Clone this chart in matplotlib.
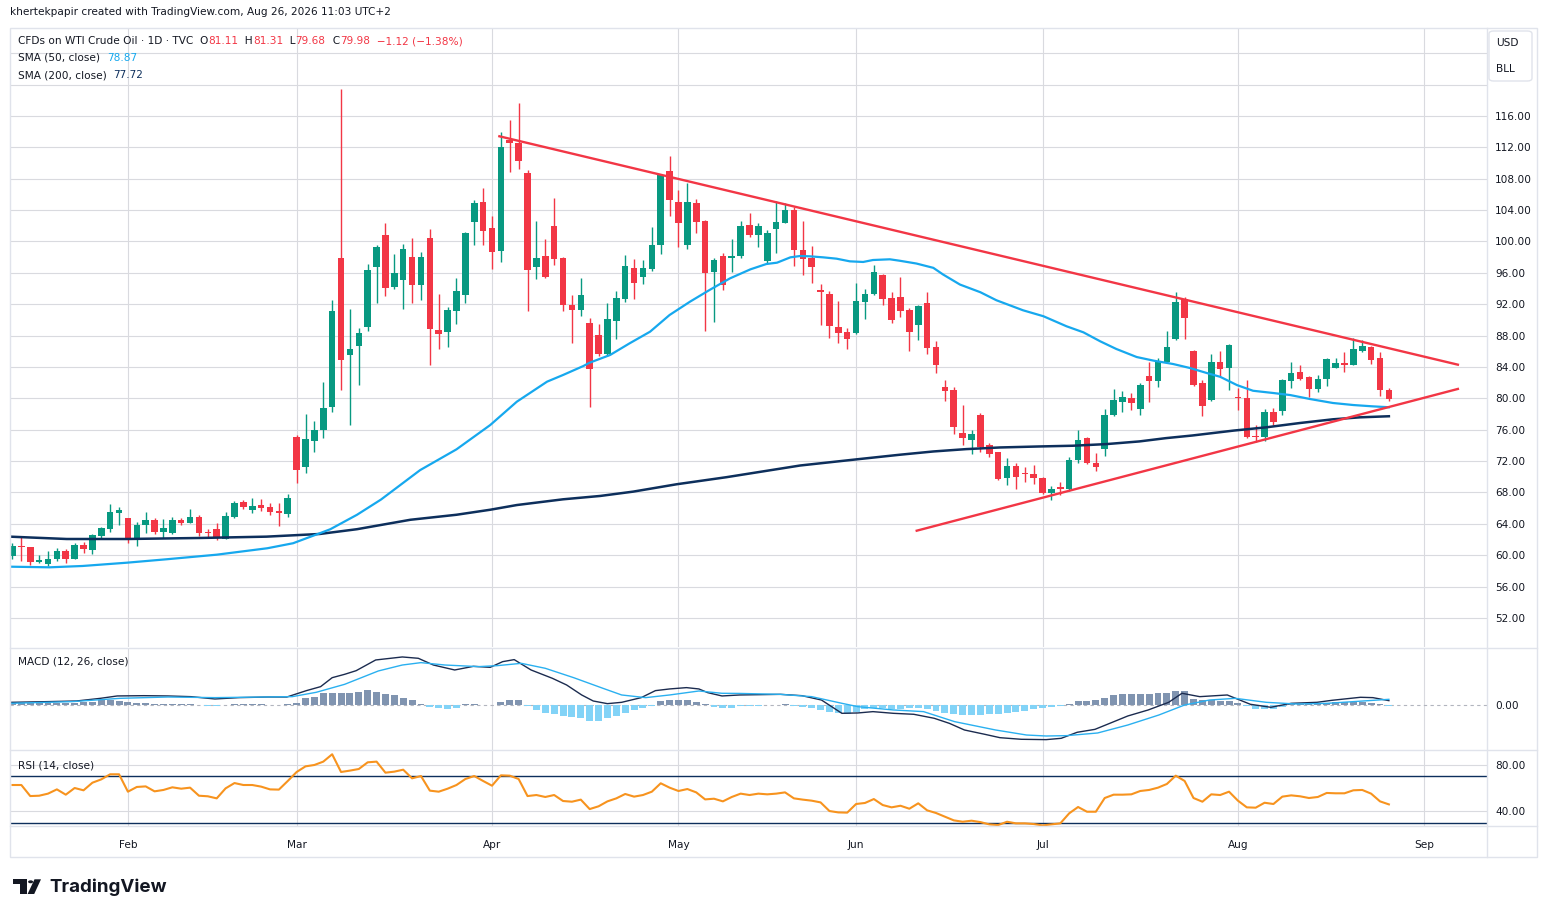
import numpy as np
import pandas as pd
import matplotlib
matplotlib.use('Agg')
import matplotlib.pyplot as plt
from matplotlib.patches import Rectangle, FancyBboxPatch, Polygon, Circle
from matplotlib.lines import Line2D

W, H = 1547, 917

# trading days (TVC daily bars, US holidays skipped)
holidays = ['2026-01-19', '2026-02-16', '2026-04-03', '2026-05-25',
            '2026-06-19', '2026-07-03']
days = pd.bdate_range('2026-01-13', '2026-09-01')
days = days[~days.isin(pd.to_datetime(holidays))]

opens = [59.94, 61.2, 61.0, 59.2, 58.9, 59.5, 60.6, 59.5, 61.3, 60.7,
         62.5, 63.4, 65.4, 64.7, 62.2, 63.8, 64.5, 63.0, 62.8, 64.5,
         64.1, 64.9, 63.0, 63.3, 62.1, 64.9, 66.8, 65.8, 66.4, 66.1,
         65.6, 65.3, 75.1, 71.2, 74.6, 76.0, 78.9, 97.9, 85.5, 86.7,
         89.1, 96.7, 100.8, 94.2, 95.1, 98.0, 94.4, 100.4, 88.7, 88.4,
         91.2, 93.2, 102.5, 105.0, 101.7, 98.8, 112.9, 112.6, 108.7, 96.7,
         98.2, 102.0, 97.9, 91.9, 91.3, 89.6, 88.1, 85.7, 89.9, 92.7,
         96.6, 95.5, 96.5, 99.5, 109.0, 105.0, 99.5, 104.9, 102.6, 96.1,
         98.1, 97.9, 98.1, 102.1, 100.8, 97.5, 101.6, 102.4, 104.0, 98.9,
         97.9, 93.8, 93.3, 89.1, 88.5, 88.3, 92.3, 93.3, 95.7, 92.8,
         92.9, 91.3, 89.3, 92.2, 86.6, 81.4, 81.1, 75.6, 74.7, 77.9,
         74.1, 73.1, 69.8, 71.4, 70.4, 70.3, 69.9, 67.9, 68.6, 68.4,
         72.2, 74.9, 71.8, 73.5, 77.9, 79.6, 80.0, 78.7, 82.9, 82.2,
         84.6, 87.6, 92.7, 86.1, 82.0, 79.8, 84.7, 83.9, 80.2, 80.1,
         75.25, 75.1, 78.2, 78.4, 82.2, 83.4, 82.7, 81.2, 82.5, 83.9,
         84.45, 84.3, 86.1, 86.5, 85.1, 81.11]
highs = [61.55, 62.3, 61.1, 60.0, 60.5, 60.9, 60.8, 61.5, 61.7, 62.7,
         63.6, 66.5, 66.1, 64.7, 64.2, 65.5, 64.7, 64.6, 64.9, 64.7,
         65.9, 65.1, 63.3, 64.1, 65.5, 66.9, 67.0, 67.3, 67.2, 66.7,
         66.7, 67.8, 75.3, 78.0, 77.1, 82.1, 92.5, 119.4, 91.4, 89.0,
         97.1, 99.6, 102.4, 98.4, 99.7, 100.4, 98.7, 101.6, 93.3, 91.6,
         95.3, 101.2, 105.3, 106.8, 103.3, 114.0, 115.5, 117.7, 109.1, 102.6,
         100.3, 105.5, 98.0, 93.2, 95.3, 90.2, 89.5, 92.2, 93.7, 98.3,
         97.8, 97.6, 101.8, 108.6, 110.9, 106.6, 107.5, 105.4, 102.7, 97.9,
         98.5, 100.3, 102.6, 103.6, 102.4, 101.5, 105.2, 104.9, 104.4, 102.6,
         99.4, 94.6, 93.7, 92.4, 89.0, 94.7, 93.9, 97.0, 95.9, 93.6,
         95.5, 91.5, 91.9, 93.6, 87.3, 82.4, 81.5, 79.2, 76.0, 78.1,
         74.3, 73.2, 72.4, 71.8, 71.2, 71.5, 70.0, 68.8, 69.3, 72.5,
         76.0, 75.1, 73.0, 78.6, 81.2, 80.9, 80.7, 81.9, 84.6, 85.1,
         88.6, 93.5, 92.9, 86.2, 82.4, 85.6, 86.0, 86.9, 81.3, 82.3,
         76.65, 78.6, 78.8, 82.5, 84.6, 84.3, 82.8, 83.0, 85.1, 85.1,
         85.9, 87.7, 87.5, 86.7, 85.9, 81.31]
lows = [59.5, 59.3, 58.8, 59.0, 58.6, 59.3, 59.0, 59.5, 60.3, 60.2,
        62.1, 62.9, 63.8, 61.5, 61.2, 62.8, 62.7, 62.2, 62.7, 63.8,
        64.1, 62.5, 62.2, 61.9, 62.1, 64.7, 65.9, 65.4, 65.6, 65.1,
        63.7, 64.9, 69.2, 70.5, 73.2, 75.0, 78.2, 81.1, 76.6, 81.7,
        88.6, 92.1, 93.0, 93.9, 91.4, 92.1, 92.5, 84.3, 86.3, 86.5,
        89.5, 92.1, 99.5, 99.6, 96.5, 97.4, 108.9, 109.2, 91.1, 95.2,
        95.4, 97.0, 91.1, 87.0, 90.5, 78.9, 85.4, 85.4, 87.6, 92.3,
        92.7, 94.6, 96.2, 98.4, 103.3, 99.3, 99.0, 101.1, 88.6, 89.7,
        93.8, 96.1, 97.9, 100.6, 99.3, 97.1, 98.5, 102.3, 96.9, 95.7,
        94.7, 89.3, 87.7, 87.0, 86.3, 88.2, 90.1, 93.2, 91.9, 89.6,
        90.4, 86.0, 87.4, 85.7, 83.2, 79.7, 75.5, 74.1, 72.9, 73.2,
        72.5, 69.6, 68.9, 68.5, 69.3, 69.1, 67.8, 67.0, 67.7, 68.2,
        71.7, 71.6, 70.8, 72.6, 77.8, 78.2, 78.5, 77.9, 79.6, 81.4,
        84.5, 87.4, 87.6, 81.6, 77.8, 79.7, 82.9, 81.1, 78.5, 75.0,
        74.5, 74.6, 76.6, 77.9, 81.3, 82.4, 80.2, 80.8, 81.6, 83.9,
        83.4, 84.2, 85.9, 84.4, 80.3, 79.68]
closes = [61.2, 61.0, 59.1, 59.3, 59.5, 60.6, 59.5, 61.3, 60.8, 62.6,
          63.5, 65.5, 65.8, 62.2, 63.9, 64.5, 63.0, 63.5, 64.5, 64.1,
          64.9, 62.8, 62.8, 62.2, 65.0, 66.7, 66.1, 66.3, 66.0, 65.5,
          65.4, 67.3, 70.9, 74.8, 76.0, 78.8, 91.1, 84.9, 86.3, 88.3,
          96.4, 99.3, 94.1, 96.0, 99.0, 94.5, 98.0, 88.8, 88.2, 91.3,
          93.7, 101.1, 104.9, 101.4, 98.7, 112.0, 112.5, 110.2, 96.4, 97.9,
          95.5, 97.8, 91.9, 91.3, 93.2, 83.8, 85.7, 90.1, 92.8, 96.9,
          94.7, 96.6, 99.5, 108.5, 105.3, 102.4, 105.0, 102.5, 96.0, 97.6,
          94.5, 98.1, 102.0, 100.8, 102.0, 101.1, 102.5, 104.0, 98.9, 97.8,
          96.7, 93.5, 89.2, 88.3, 87.6, 92.4, 93.3, 96.1, 92.7, 90.0,
          91.1, 88.5, 91.8, 86.4, 84.2, 81.0, 76.4, 74.9, 75.5, 73.8,
          72.9, 69.7, 71.4, 70.0, 70.3, 69.9, 67.9, 68.4, 68.5, 72.2,
          74.7, 71.7, 71.3, 77.9, 79.8, 80.2, 79.4, 81.7, 82.2, 84.6,
          86.5, 92.3, 90.3, 81.7, 79.0, 84.6, 83.8, 86.8, 80.0, 75.1,
          75.1, 78.2, 77.0, 82.3, 83.2, 82.5, 81.2, 82.5, 85.0, 84.5,
          84.3, 86.3, 86.65, 84.9, 81.1, 79.98]

# moving averages (bar position, value)
sma50_x = [-0.3, 4.2, 7.9, 12.9, 17.4, 23.0, 28.7, 31.6, 34.6, 35.8, 38.8,
           41.5, 45.9, 50.0, 53.8, 56.8, 60.2, 62.0, 64.3, 65.0, 67.3, 69.5,
           71.8, 74.0, 76.3, 78.5, 80.8, 83.1, 84.9, 86.1, 87.6, 88.7, 89.8,
           91.3, 92.8, 94.3, 95.8, 96.9, 98.8, 99.9, 101.8, 103.7, 104.8,
           106.7, 109.0, 110.8, 113.8, 116.1, 118.7, 120.6, 122.5, 124.3,
           126.6, 128.5, 130.7, 132.6, 134.5, 136.0, 137.9, 139.7, 142.0,
           143.9, 146.1, 148.7, 151.0, 153.2, 155.0]
sma50_y = [58.54, 58.46, 58.63, 59.05, 59.49, 60.07, 60.89, 61.53, 62.8,
           63.32, 65.16, 67.1, 70.85, 73.5, 76.6, 79.58, 82.13, 82.98, 84.13,
           84.55, 85.53, 87.02, 88.5, 90.63, 92.33, 93.82, 95.3, 96.45, 97.13,
           97.3, 97.98, 98.15, 98.11, 97.98, 97.81, 97.47, 97.39, 97.64,
           97.73, 97.55, 97.19, 96.64, 95.79, 94.51, 93.53, 92.51, 91.23,
           90.47, 89.19, 88.42, 87.27, 86.3, 85.27, 84.81, 84.38, 83.87,
           83.23, 82.75, 81.69, 80.97, 80.68, 80.42, 79.92, 79.41, 79.15,
           78.98, 78.87]
sma200_x = [-0.3, 6.1, 12.9, 21.1, 28.6, 34.6, 38.8, 44.8, 50.0, 53.8, 56.8,
            62.0, 66.2, 69.9, 74.8, 80.4, 88.7, 95.1, 99.9, 103.7, 107.4,
            111.2, 115.7, 119.4, 123.2, 126.9, 129.9, 132.9, 137.5, 141.2,
            145.0, 148.7, 151.7, 155.0]
sma200_y = [62.37, 62.07, 62.07, 62.2, 62.37, 62.71, 63.32, 64.52, 65.16,
            65.8, 66.4, 67.13, 67.56, 68.11, 69.05, 69.95, 71.44, 72.23,
            72.81, 73.23, 73.53, 73.74, 73.87, 73.96, 74.17, 74.51, 74.93,
            75.27, 75.89, 76.31, 76.86, 77.33, 77.58, 77.72]

# drawn trendlines (bar position, price)
upper_x = [54.7, 162.9]
upper_y = [113.45, 84.26]
lower_x = [101.7, 162.9]
lower_y = [63.09, 81.24]

# MACD (12, 26)
macd_x = [-0.2, 4.0, 7.2, 9.9, 11.8, 14.8, 17.5, 20.1, 22.8, 25.5, 28.8,
          30.9, 33.1, 34.7, 36.0, 37.4, 38.7, 40.9, 43.9, 45.7, 47.4, 49.8,
          51.9, 53.8, 55.2, 56.5, 58.4, 60.8, 62.4, 64.1, 65.4, 67.0, 68.6,
          70.8, 72.4, 74.0, 75.9, 77.3, 78.3, 79.9, 81.9, 86.5, 88.9, 91.1,
          93.4, 95.2, 96.9, 99.2, 101.5, 103.8, 105.5, 107.2, 109.5, 111.2,
          113.6, 116.4, 118.1, 119.9, 121.9, 123.3, 125.6, 127.9, 130.2,
          131.7, 133.7, 136.8, 139.4, 141.7, 144.0, 146.9, 148.6, 151.8,
          153.2, 155.0]
macd_y = [0.38, 0.48, 0.57, 0.95, 1.29, 1.33, 1.29, 1.19, 0.86, 1.05, 1.14,
          1.14, 2.05, 2.62, 3.9, 4.38, 4.9, 6.43, 6.86, 6.67, 5.71, 5.0,
          5.52, 5.38, 6.19, 6.48, 5.0, 3.81, 2.86, 1.43, 0.57, 0.19, 0.38,
          1.05, 2.05, 2.29, 2.48, 2.29, 1.76, 1.29, 1.43, 1.52, 1.33, 0.71,
          -1.19, -1.14, -0.95, -1.19, -1.33, -1.9, -2.62, -3.57, -4.19,
          -4.67, -4.9, -4.95, -4.76, -3.9, -3.48, -2.76, -1.57, -0.71, 0.38,
          1.67, 1.19, 1.43, 0.1, -0.33, 0.24, 0.38, 0.67, 1.1, 1.05, 0.62]
signal_x = [-0.2, 6.7, 12.1, 17.5, 22.8, 28.2, 31.5, 34.2, 37.4, 41.2, 43.9,
            46.0, 48.7, 52.5, 54.6, 57.3, 60.0, 63.2, 66.5, 68.6, 71.3, 74.0,
            77.3, 79.9, 81.9, 86.5, 90.0, 93.4, 95.2, 99.2, 102.6, 106.1,
            110.7, 114.2, 116.4, 118.7, 122.2, 125.6, 129.1, 132.0, 134.8,
            137.7, 141.2, 144.6, 148.1, 151.0, 153.8, 155.0]
signal_y = [0.24, 0.48, 0.95, 1.14, 1.05, 1.14, 1.19, 1.81, 2.95, 4.86, 5.71,
            6.05, 5.71, 5.48, 5.62, 5.95, 5.24, 3.9, 2.38, 1.43, 1.05, 1.43,
            2.0, 1.67, 1.65, 1.52, 1.19, 0.24, -0.24, -0.71, -0.95, -2.38,
            -3.57, -4.29, -4.43, -4.38, -4.0, -2.86, -1.43, 0.0, 0.71, 0.95,
            0.38, 0.14, 0.24, 0.48, 0.71, 0.81]
hist = [0.29, 0.29, 0.24, 0.24, 0.24, 0.29, 0.29, 0.33, 0.38, 0.48,
        0.67, 0.67, 0.57, 0.38, 0.29, 0.24, 0.19, 0.14, 0.14, 0.10,
        0.10, 0.05, -0.10, -0.19, 0.05, 0.10, 0.10, 0.10, 0.10, 0.05,
        0.05, 0.14, 0.33, 0.95, 1.10, 1.67, 1.67, 1.67, 1.67, 1.90,
        2.14, 1.90, 1.52, 1.43, 1.05, 0.67, 0.10, -0.29, -0.48, -0.57,
        -0.38, 0.10, 0.10, 0.02, 0.05, 0.38, 0.71, 0.71, -0.14, -0.71,
        -1.10, -1.29, -1.52, -1.76, -1.81, -2.24, -2.24, -1.90, -1.62, -1.19,
        -0.71, -0.48, -0.19, 0.62, 0.71, 0.71, 0.67, 0.38, 0.10, -0.24,
        -0.43, -0.48, -0.19, -0.19, -0.14, -0.05, 0.05, 0.14, -0.14, -0.33,
        -0.48, -0.71, -0.95, -1.10, -1.29, -0.95, -0.57, -0.48, -0.48, -0.52,
        -0.57, -0.48, -0.38, -0.57, -0.86, -1.10, -1.29, -1.43, -1.43, -1.43,
        -1.33, -1.24, -1.14, -0.95, -0.81, -0.62, -0.43, -0.29, -0.19, 0.10,
        0.57, 0.57, 0.76, 1.05, 1.38, 1.57, 1.62, 1.62, 1.62, 1.67,
        1.76, 2.0, 2.0, 0.86, 0.76, 0.67, 0.62, 0.52, 0.24, -0.19,
        -0.62, -0.62, -0.57, -0.29, 0.10, 0.19, 0.19, 0.24, 0.33, 0.38,
        0.38, 0.43, 0.43, 0.29, 0.19, -0.19]

# RSI (14), one value per bar
rsi = [62.6, 62.6, 53.0, 53.3, 55.1, 58.8, 54.2, 60.0, 58.0, 64.6,
       67.5, 71.9, 71.9, 56.8, 60.9, 61.4, 57.1, 58.3, 60.6, 59.4,
       60.3, 53.3, 52.8, 51.0, 59.7, 64.3, 62.6, 62.6, 61.2, 58.8,
       58.6, 66.1, 73.9, 78.8, 80.0, 82.9, 89.3, 73.9, 75.1, 76.5,
       82.3, 82.9, 73.3, 74.2, 75.9, 68.4, 70.4, 57.7, 56.8, 59.4,
       62.6, 67.8, 70.4, 66.1, 62.0, 71.0, 70.7, 67.8, 53.0, 53.9,
       52.2, 53.9, 48.7, 48.1, 49.9, 41.7, 44.1, 48.4, 51.0, 54.8,
       52.5, 53.9, 56.8, 64.1, 60.3, 57.4, 59.1, 56.2, 50.1, 50.7,
       48.4, 52.2, 55.1, 53.9, 55.1, 54.5, 55.1, 56.2, 51.0, 49.9,
       49.0, 47.5, 40.0, 38.8, 38.6, 46.1, 47.0, 50.4, 45.2, 43.2,
       44.6, 42.0, 46.7, 40.6, 38.3, 35.1, 31.9, 30.7, 31.6, 30.4,
       28.4, 27.8, 30.7, 29.3, 29.3, 28.7, 27.5, 28.4, 29.3, 38.0,
       43.5, 39.4, 39.4, 51.3, 54.2, 54.2, 54.5, 57.4, 58.3, 60.3,
       63.5, 70.7, 66.1, 51.3, 48.1, 54.5, 53.9, 56.8, 49.0, 43.2,
       42.9, 47.2, 46.1, 52.5, 53.6, 52.8, 51.3, 52.2, 55.7, 55.4,
       55.4, 58.0, 58.3, 55.1, 48.4, 45.76]

month_labels = ['Feb', 'Mar', 'Apr', 'May', 'Jun', 'Jul', 'Aug', 'Sep']
price_ticks = np.arange(52, 125, 4)

UP, DOWN = '#089981', '#f23645'
TXT = '#131722'
GRID = '#d9dadf'
BLUE = '#16a8ee'
NAVY = '#0d2f5c'
FS = 7.6
plt.rcParams['font.family'] = ['DejaVu Sans']

o = np.array(opens); h = np.array(highs); l = np.array(lows); c = np.array(closes)
n = len(c)
idx = np.arange(n)
col = np.where(c >= o, UP, DOWN)

month_pos = [int(np.argmax((days.month == m) & (days.year == 2026))) for m in range(2, 10)]


def fx(x):
    return x / W


def fy(y):
    return 1 - y / H


fig = plt.figure(figsize=(W / 100, H / 100), dpi=100)
fig.patch.set_facecolor('white')

x0, x1 = 10, 1487
ax = fig.add_axes([fx(x0), fy(647), (x1 - x0) / W, (647 - 28) / H])
mx = fig.add_axes([fx(x0), fy(750), (x1 - x0) / W, (750 - 648) / H])
rx = fig.add_axes([fx(x0), fy(826), (x1 - x0) / W, (826 - 750) / H])

for a in (ax, mx, rx):
    a.set_xlim(-0.28, 166.05)
    for s in a.spines.values():
        s.set_visible(False)
    a.set_xticks(month_pos)
    a.xaxis.grid(True, color=GRID, lw=0.8)
    a.set_axisbelow(True)
    a.yaxis.tick_right()
    a.tick_params(axis='both', length=0, labelsize=FS, colors=TXT, pad=6)
    a.tick_params(axis='x', labelbottom=False)

# main price pane
ax.set_ylim(48.3, 127.22)
ax.set_yticks(price_ticks)
ax.set_yticklabels(['%.2f' % v if v <= 116 else '' for v in price_ticks])
ax.yaxis.grid(True, color=GRID, lw=0.8)

ax.vlines(idx, l, h, colors=col, lw=1.0, zorder=3)
ax.bar(idx, np.maximum(np.abs(c - o), 0.15), bottom=np.minimum(o, c),
       width=0.74, color=col, linewidth=0, zorder=4)
ax.plot(sma200_x, sma200_y, color=NAVY, lw=1.8, zorder=5)
ax.plot(sma50_x, sma50_y, color=BLUE, lw=1.6, zorder=5)
ax.plot(upper_x, upper_y, color=DOWN, lw=1.7, zorder=6, solid_capstyle='butt')
ax.plot(lower_x, lower_y, color=DOWN, lw=1.7, zorder=6, solid_capstyle='butt')

# MACD pane
mx.set_ylim(-6.43, 8.14)
mx.set_yticks([0])
mx.set_yticklabels(['0.00'])
hist = np.array(hist)
mx.bar(idx, hist, width=0.78, color=np.where(hist >= 0, '#8094b0', '#82d3f7'),
       linewidth=0, zorder=2)
mx.axhline(0, color='#b2b5be', lw=0.8, ls=(0, (3, 3)), zorder=1)
mx.plot(macd_x, macd_y, color='#1b2b4f', lw=1.0, zorder=3)
mx.plot(signal_x, signal_y, color='#2ab0f0', lw=1.0, zorder=3)

# RSI pane
rx.set_ylim(27.0, 93.0)
rx.set_yticks([40, 80])
rx.set_yticklabels(['40.00', '80.00'])
rx.yaxis.grid(True, color=GRID, lw=0.8)
rx.axhline(70, color=NAVY, lw=1.0, zorder=2)
rx.axhline(30, color=NAVY, lw=1.0, zorder=2)
rx.plot(idx, rsi, color='#f7931e', lw=1.5, zorder=3)
rx.tick_params(axis='x', labelbottom=True, pad=10)
rx.set_xticklabels(month_labels)

# frame and pane separators
fig.add_artist(Rectangle((fx(10), fy(857)), (1537 - 10) / W, (857 - 28) / H,
                         transform=fig.transFigure, fill=False, ec='#e0e3eb', lw=1))
for yy in (647.5, 750, 826):
    fig.add_artist(Line2D([fx(10), fx(1537)], [fy(yy), fy(yy)],
                          transform=fig.transFigure, color='#e0e3eb', lw=1))
fig.add_artist(Line2D([fx(1487), fx(1487)], [fy(28), fy(857)],
                      transform=fig.transFigure, color='#e0e3eb', lw=1))

# currency / unit box
fig.add_artist(FancyBboxPatch((fx(1489), fy(81)), 43 / W, 50 / H,
                              boxstyle='round,pad=0,rounding_size=0.003',
                              transform=fig.transFigure, fc='white', ec='#e0e3eb', lw=1))
fig.text(fx(1496), fy(43), 'USD', fontsize=FS, color=TXT, va='center')
fig.text(fx(1496), fy(69), 'BLL', fontsize=FS, color=TXT, va='center')


def legend(parts, x, y):
    t = fig.text(fx(x), fy(y), parts[0][0], color=parts[0][1], fontsize=FS,
                 va='center', ha='left')
    for s, cc in parts[1:]:
        t = ax.annotate(s, xy=(1, 0.5), xycoords=t, va='center', ha='left',
                        color=cc, fontsize=FS, annotation_clip=False)


legend([('CFDs on WTI Crude Oil · 1D · TVC  O', TXT), ('81.11', DOWN),
        ('  H', TXT), ('81.31', DOWN), ('  L', TXT), ('79.68', DOWN),
        ('  C', TXT), ('79.98', DOWN), ('  −1.12 (−1.38%)', DOWN)], 18, 41)
legend([('SMA (50, close)  ', TXT), ('78.87', BLUE)], 18, 58)
legend([('SMA (200, close)  ', TXT), ('77.72', NAVY)], 18, 75)
legend([('MACD (12, 26, close)  ', TXT), ('−0.19', BLUE), ('  0.62', NAVY),
        ('  0.81', BLUE)], 18, 662)
legend([('RSI (14, close)  ', TXT), ('45.76', '#f7931e')], 18, 765)

fig.text(fx(10), fy(12), 'khertekpapir created with TradingView.com, Aug 26, 2026 11:03 UTC+2',
         fontsize=FS, color=TXT, va='center')

# TradingView logo
def P(x, y):
    return (fx(x), fy(y))


fig.add_artist(Polygon([P(12.7, 879.3), P(26.7, 879.3), P(26.7, 894), P(20.3, 894),
                        P(20.3, 884.2), P(12.7, 884.2)], closed=True,
                       transform=fig.transFigure, fc='#131722', ec='none'))
fig.add_artist(Circle(P(30.6, 881.8), 2.5 / W, transform=fig.transFigure,
                      fc='#131722', ec='none'))
fig.add_artist(Polygon([P(34.5, 879.3), P(41.0, 879.3), P(34.2, 894), P(27.6, 894)],
                       closed=True, transform=fig.transFigure, fc='#131722', ec='none'))
fig.text(fx(49), fy(887), 'TradingView', fontsize=13.5, fontweight='bold',
         family='Inter', color='#131722', va='center')

fig.savefig('out.png', dpi=100)
